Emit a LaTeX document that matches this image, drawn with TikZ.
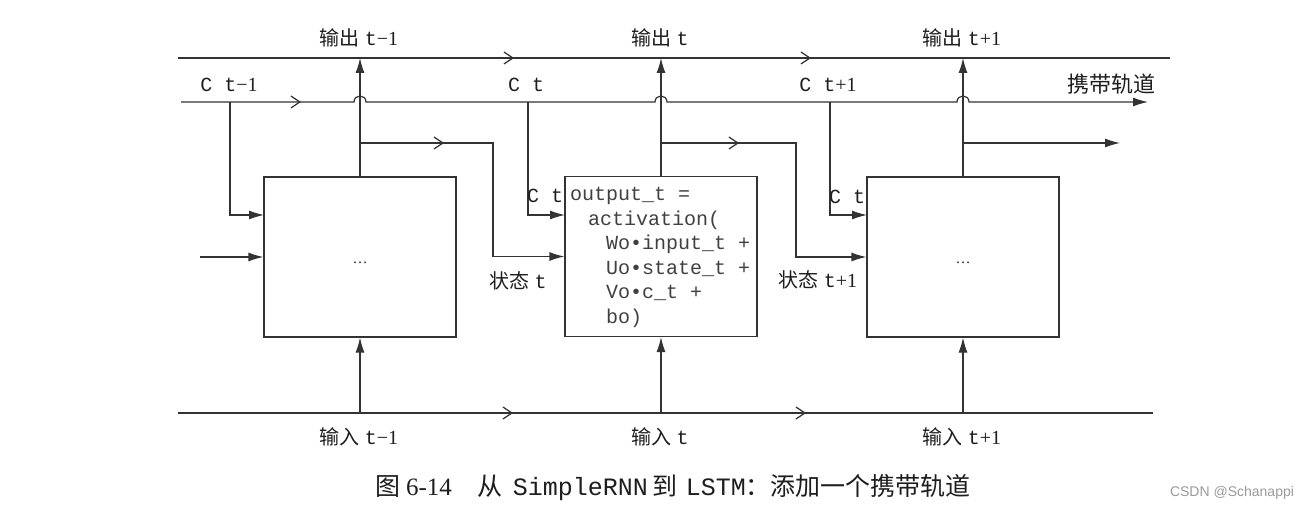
\documentclass[tikz,border=0pt]{standalone}
\usepackage{fontspec}
\setmainfont{Liberation Serif}
\newfontfamily\cjk{Noto Sans CJK SC}
\newfontfamily\mono{Liberation Mono}
\newfontfamily\wmfont{Liberation Sans}
\usetikzlibrary{arrows.meta,decorations.markings}
\definecolor{linec}{HTML}{333333}
\definecolor{textc}{HTML}{1E1E1E}
\definecolor{wmc}{HTML}{9A9A9A}
\tikzset{
  ln/.style={draw=linec, line width=1.2pt},
  solidtip/.style={-{Latex[length=15pt,width=9pt]}},
  cell/.style={draw=linec, line width=1.2pt, minimum width=192pt, minimum height=160pt, inner sep=0pt},
  lbl/.style={font=\fontsize{20}{24}\selectfont, text=textc, inner sep=0pt},
  dots/.style={font=\fontsize{15}{18}\selectfont, text=textc, inner sep=0pt},
  codeline/.style={font=\mono\fontsize{20}{24}\selectfont, text=textc!85!white, anchor=base west, inner sep=0pt},
  openat/.style={postaction={decorate}, decoration={markings, mark=at position #1 with {\arrow[linec]{Straight Barb[length=9pt,width=12pt,line width=1.2pt]}}}},
  opentwo/.style 2 args={postaction={decorate}, decoration={markings,
     mark=at position #1 with {\arrow[linec]{Straight Barb[length=9pt,width=12pt,line width=1.2pt]}},
     mark=at position #2 with {\arrow[linec]{Straight Barb[length=9pt,width=12pt,line width=1.2pt]}}}},
}
\newcommand\mt[1]{{\mono #1}}
\begin{document}
\begin{tikzpicture}[x=1pt,y=-1pt]
\useasboundingbox[fill=white] (0,0) rectangle (1308,510);

% cells
\node[cell] (b1) at (360,257) {};
\node[cell] (b2) at (661,256.5) {};
\node[cell] (b3) at (963,257) {};
\node[dots] (d1) at (360,263) {…};
\node[dots] (d3) at (963,263) {…};

% code in cell 2
\node[codeline] (k1) at (570,201) {output\_t =};
\node[codeline] (k2) at (588,225.5) {activation(};
\node[codeline] (k3) at (606,250) {Wo•input\_t +};
\node[codeline] (k4) at (606,274.5) {Uo•state\_t +};
\node[codeline] (k5) at (606,299) {Vo•c\_t +};
\node[codeline] (k6) at (606,323.5) {bo)};

% coordinates
\coordinate (ts) at (178,58);   \coordinate (te) at (1170,58);
\coordinate (bs) at (178,413);  \coordinate (be) at (1153,413);
\coordinate (o1) at (360,58);   \coordinate (o2) at (661,58);   \coordinate (o3) at (963,58);
\coordinate (i1) at (360,413);  \coordinate (i2) at (661,413);  \coordinate (i3) at (963,413);
\coordinate (cs) at (181,102);  \coordinate (ce) at (1148,102);
\coordinate (h1a) at (354,102); \coordinate (h1b) at (366,102);
\coordinate (h2a) at (655,102); \coordinate (h2b) at (667,102);
\coordinate (h3a) at (957,102); \coordinate (h3b) at (969,102);
\coordinate (c1) at (230,102);  \coordinate (c1in) at (264,215);
\coordinate (c2) at (528,102);  \coordinate (c2in) at (565,215);
\coordinate (c3) at (830,102);  \coordinate (c3in) at (867,215);
\coordinate (s0) at (200,257);
\coordinate (br1) at (360,143); \coordinate (st1) at (493,143);
\coordinate (br2) at (661,143); \coordinate (st2) at (796,143);
\coordinate (br3) at (963,143); \coordinate (st3) at (1120,143);

% output track and input track
\draw[ln, opentwo={336pt}{633pt}] (ts) -- (te);
\draw[ln, opentwo={335pt}{628pt}] (bs) -- (be);

% carry track with hops
\draw[ln, solidtip, openat=120pt] (cs) -- (h1a) .. controls (354,94) and (366,94) .. (h1b)
   -- (h2a) .. controls (655,94) and (667,94) .. (h2b)
   -- (h3a) .. controls (957,94) and (969,94) .. (h3b) -- (ce);

% outputs
\draw[ln, solidtip] (b1.north) -- (o1);
\draw[ln, solidtip] (b2.north) -- (o2);
\draw[ln, solidtip] (b3.north) -- (o3);

% inputs
\draw[ln, solidtip] (i1) -- (b1.south);
\draw[ln, solidtip] (i2) -- (b2.south);
\draw[ln, solidtip] (i3) -- (b3.south);

% carry drops
\draw[ln, solidtip] (c1) |- (c1in);
\draw[ln, solidtip] (c2) |- (c2in);
\draw[ln, solidtip] (c3) |- (c3in);

% states
\draw[ln, solidtip] (s0) -- (b1.west);
\draw[ln, solidtip, openat=84pt] (br1) -- (st1) |- (b2.west);
\draw[ln, solidtip, openat=78pt] (br2) -- (st2) |- (b3.west);
\draw[ln, solidtip] (br3) -- (st3);

% labels
\node[lbl] (lo1) at (359,38) {{\cjk 输出} \mt{t}−1};
\node[lbl] (lo2) at (660,38) {{\cjk 输出} \mt{t}};
\node[lbl] (lo3) at (962,38) {{\cjk 输出} \mt{t}+1};
\node[lbl] (lc1) at (229,85) {\mt{C t}−1};
\node[lbl] (lc2) at (526,85) {\mt{C t}};
\node[lbl] (lc3) at (828,85) {\mt{C t}+1};
\node[lbl, font=\cjk\fontsize{22}{26}\selectfont] (lcar) at (1111,84) {携带轨道};
\node[lbl] (lci2) at (545,196) {\mt{C t}};
\node[lbl] (lci3) at (847,197) {\mt{C t}};
\node[lbl] (ls2) at (518,281) {{\cjk 状态} \mt{t}};
\node[lbl] (ls3) at (818,280) {{\cjk 状态} \mt{t}+1};
\node[lbl] (li1) at (359,437) {{\cjk 输入} \mt{t}−1};
\node[lbl] (li2) at (660,437) {{\cjk 输入} \mt{t}};
\node[lbl] (li3) at (962,437) {{\cjk 输入} \mt{t}+1};

% caption
\node[lbl, font=\fontsize{25}{29}\selectfont] (cap) at (673,488)
  {{\cjk 图}\hspace{6pt}6-14\hspace{26pt}{\cjk 从}\hspace{10pt}\mt{SimpleRNN}\hspace{5pt}{\cjk 到}\hspace{8pt}\mt{LSTM}{\cjk ：添加一个携带轨道}};
\node[inner sep=0pt, text=wmc, font=\wmfont\fontsize{14}{16}\selectfont] (wm) at (1232,493) {CSDN @Schanappi};
\end{tikzpicture}
\end{document}
